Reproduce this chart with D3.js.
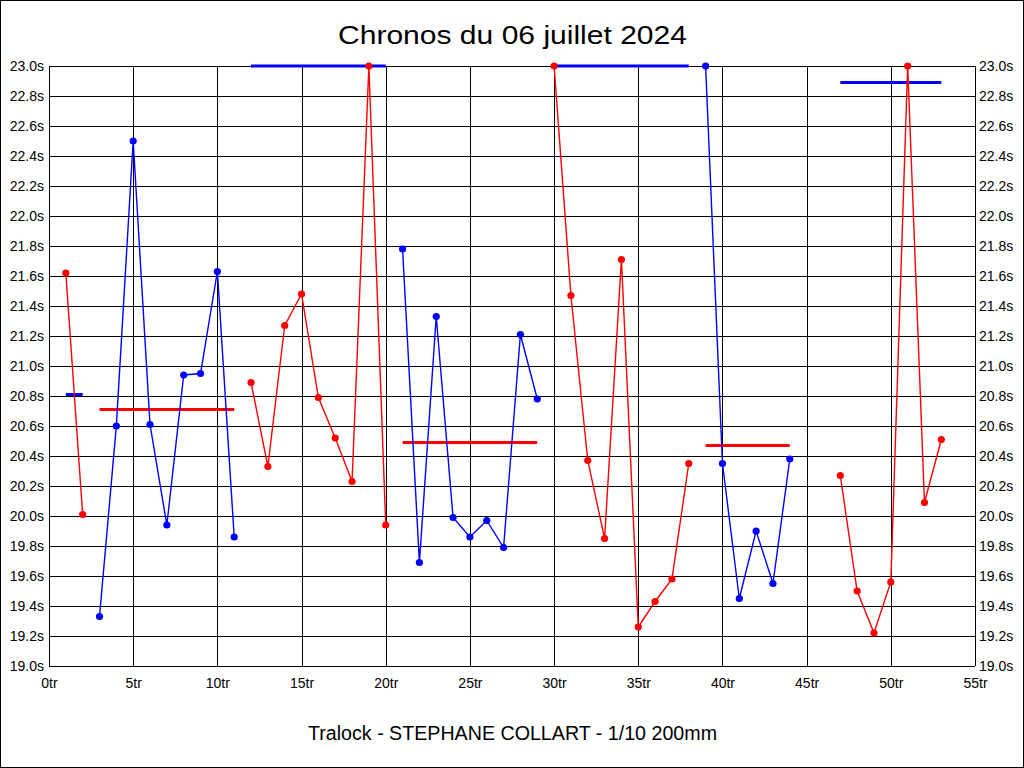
<!DOCTYPE html>
<html>
<head>
<meta charset="utf-8">
<script src="https://cdn.jsdelivr.net/npm/d3@7"></script>
<style>
html,body{margin:0;padding:0;background:#fff;}
svg{display:block;}
text{font-family:"Liberation Sans", Arial, sans-serif;fill:#000;}
</style>
</head>
<body>
<svg id="chart" width="1024" height="768"></svg>
<script>
// ---- data ----
const chartTitle = "Chronos du 06 juillet 2024";
const chartFooter = "Tralock - STEPHANE COLLART - 1/10 200mm";
const lapNumbers = [1,2,3,4,5,6,7,8,9,10,11,12,13,14,15,16,17,18,19,20,21,22,23,24,25,26,27,28,29,30,31,32,33,34,35,36,37,38,39,40,41,42,43,44,45,46,47,48,49,50,51,52,53];
const lapTimes = [21.62,20.01,19.33,20.60,22.50,20.61,19.94,20.94,20.95,21.63,19.86,
  20.89,20.33,21.27,21.48,20.79,20.52,20.23,23.00,19.94,
  21.78,19.69,21.33,19.99,19.86,19.97,19.79,21.21,20.78,
  23.00,21.47,20.37,19.85,21.71,19.26,19.43,19.58,20.35,
  23.00,20.35,19.45,19.90,19.55,20.38,null,null,
  20.27,19.50,19.22,19.56,23.00,20.09,20.51];
const stintStart = [1, 3, 12, 21, 30, 39, 47];
const stintEnd   = [2, 11, 20, 29, 38, 44, 53];
const stintKind  = ["A","B","A","B","A","B","A"];
const stintAvg   = [20.81, 20.71, 23.00, 20.49, 23.00, 20.47, 22.89];
const xTicks = [0,5,10,15,20,25,30,35,40,45,50,55];
const yTicks = [19.0,19.2,19.4,19.6,19.8,20.0,20.2,20.4,20.6,20.8,21.0,21.2,21.4,21.6,21.8,22.0,22.2,22.4,22.6,22.8,23.0];

// ---- styles ----
const kindColor = {A:"#ff0000", B:"#0000ff"};
const avgColor  = {A:"#0000ff", B:"#ff0000"};

const svg = d3.select("#chart");
const W = 1024, H = 768;
const x = d3.scaleLinear().domain([0,55]).range([49,975]);
const y = d3.scaleLinear().domain([19,23]).range([666,66]);

svg.append("rect").attr("x",0.5).attr("y",0.5).attr("width",W-1).attr("height",H-1)
  .attr("fill","#fff").attr("stroke","#000").attr("stroke-width",1);

// grid
const grid = svg.append("g").attr("shape-rendering","crispEdges");
grid.selectAll("line.h").data(yTicks).join("line").attr("class","h")
  .attr("x1",x(0)).attr("x2",x(55))
  .attr("y1",d=>Math.round(y(d))+0.5).attr("y2",d=>Math.round(y(d))+0.5)
  .attr("stroke","#000").attr("stroke-width",1);
grid.selectAll("line.v").data(xTicks).join("line").attr("class","v")
  .attr("y1",y(23)).attr("y2",y(19))
  .attr("x1",d=>Math.round(x(d))+0.5).attr("x2",d=>Math.round(x(d))+0.5)
  .attr("stroke","#000").attr("stroke-width",1);

// axes labels via d3 axes
const fmtY = d => d.toFixed(1) + "s";
const leftAxis = svg.append("g").attr("transform",`translate(${x(0)-5},0)`)
  .call(d3.axisLeft(y).tickValues(yTicks).tickFormat(fmtY).tickSize(0).tickPadding(0));
const rightAxis = svg.append("g").attr("transform",`translate(${x(55)+4},0)`)
  .call(d3.axisRight(y).tickValues(yTicks).tickFormat(fmtY).tickSize(0).tickPadding(0));
const bottomAxis = svg.append("g").attr("transform",`translate(0,${y(19)+12})`)
  .call(d3.axisBottom(x).tickValues(xTicks).tickFormat(d=>d+"tr").tickSize(0).tickPadding(0));
[leftAxis,rightAxis,bottomAxis].forEach(a=>{
  a.select(".domain").remove();
  a.selectAll("text").attr("font-size",14).attr("font-family","'Liberation Sans', Arial, sans-serif").attr("fill","#000");
});

// stints
const plot = svg.append("g");
stintStart.forEach((s,i)=>{
  const e = stintEnd[i];
  const pts = [];
  for(let k=0;k<lapNumbers.length;k++){
    const lap = lapNumbers[k];
    if(lap>=s && lap<=e && lapTimes[k]!=null) pts.push([lap, lapTimes[k]]);
  }
  const col = kindColor[stintKind[i]];
  // average line
  plot.append("line")
    .attr("x1",x(s)).attr("x2",x(e))
    .attr("y1",y(stintAvg[i])).attr("y2",y(stintAvg[i]))
    .attr("stroke",avgColor[stintKind[i]]).attr("stroke-width",3);
  plot.append("path").datum(pts)
    .attr("d",d3.line().x(d=>x(d[0])).y(d=>y(d[1])))
    .attr("fill","none").attr("stroke",col).attr("stroke-width",1.4);
  plot.selectAll(null).data(pts).join("circle")
    .attr("cx",d=>x(d[0])).attr("cy",d=>y(d[1])).attr("r",3.6).attr("fill",col);
});

// titles
svg.append("text").attr("x",512.5).attr("y",44).attr("text-anchor","middle")
  .attr("font-size",26).attr("textLength",349).attr("lengthAdjust","spacingAndGlyphs")
  .text(chartTitle);
svg.append("text").attr("x",512.5).attr("y",740).attr("text-anchor","middle")
  .attr("font-size",19.6).attr("textLength",409).attr("lengthAdjust","spacingAndGlyphs")
  .text(chartFooter);
</script>
</body>
</html>
